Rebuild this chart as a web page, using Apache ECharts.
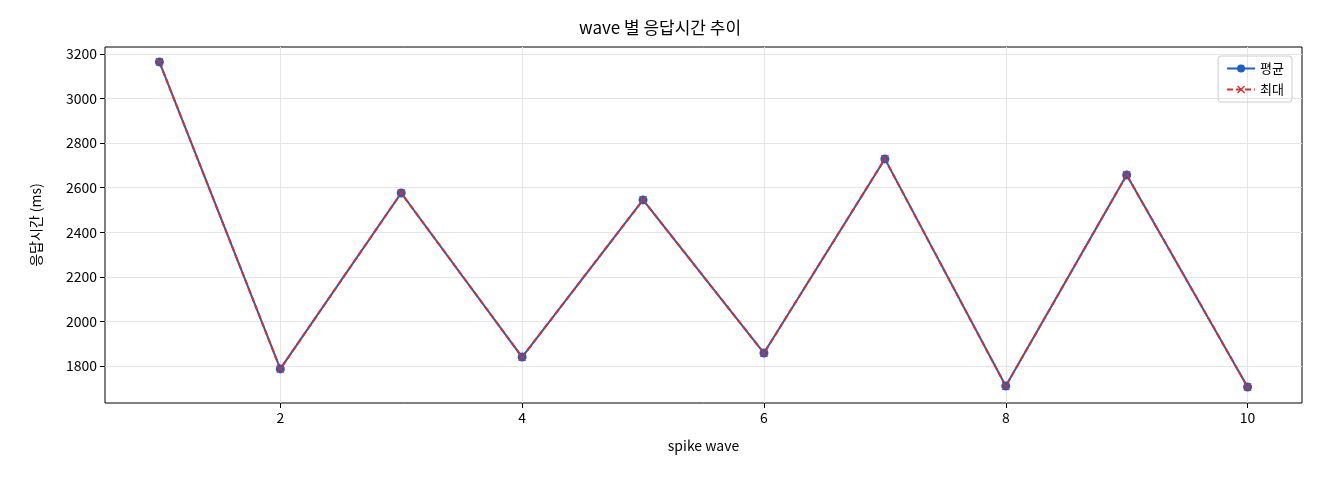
<!DOCTYPE html>
<html><head><meta charset="utf-8">
<script src="https://cdn.jsdelivr.net/npm/echarts@6/dist/echarts.min.js"></script>
<style>html,body{margin:0;padding:0;background:#fff}#c{width:1320px;height:480px}</style>
</head><body><div id="c"></div>
<script>
const waves = [1,2,3,4,5,6,7,8,9,10];
const avgMs = [3164,1787,2576,1840,2545,1858,2729,1710,2657,1706];
const maxMs = [3164,1787,2576,1840,2545,1858,2729,1710,2657,1706];
const xTicks = [2,4,6,8,10];
const yTicks = [1800,2000,2200,2400,2600,2800,3000,3200];
const font = "'Noto Sans CJK KR', 'DejaVu Sans', sans-serif";
const chart = echarts.init(document.getElementById('c'));
chart.setOption({
  animation:false,
  textStyle:{fontFamily:font},
  title:{text:'wave 별 응답시간 추이',left:'center',top:14,textStyle:{fontSize:17,fontWeight:'normal',color:'#000',fontFamily:font}},
  grid:{left:105,right:18,top:47,bottom:77,show:true,borderColor:'#000',borderWidth:1},
  legend:{right:28,top:56,orient:'vertical',borderColor:'#ccc',borderWidth:1,borderRadius:3,padding:[6,8],itemGap:8,itemWidth:28,itemHeight:10,textStyle:{fontSize:13,color:'#000'},data:['평균','최대']},
  xAxis:{type:'value',min:0.55,max:10.45,name:'spike wave',nameLocation:'middle',nameGap:36,nameTextStyle:{fontSize:14,color:'#000'},
    axisLine:{show:false},axisTick:{show:true,customValues:xTicks,lineStyle:{color:'#000'}},
    axisLabel:{customValues:xTicks,fontSize:14,color:'#000',formatter:v=>String(v)},
    splitLine:{show:true,lineStyle:{color:'#e5e5e5'}}},
  yAxis:{type:'value',min:1634,max:3231,name:'응답시간 (ms)',nameLocation:'middle',nameGap:62,nameTextStyle:{fontSize:14,color:'#000'},
    axisLine:{show:false},axisTick:{show:true,customValues:yTicks,lineStyle:{color:'#000'}},
    axisLabel:{customValues:yTicks,fontSize:14,color:'#000',formatter:v=>String(v)},
    splitLine:{show:true,lineStyle:{color:'#e5e5e5'}}},
  series:[
    {name:'평균',type:'line',data:waves.map((w,i)=>[w,avgMs[i]]),symbol:'circle',symbolSize:9,
     lineStyle:{color:'#1f5fbf',width:2},itemStyle:{color:'#1f5fbf'}},
    {name:'최대',type:'line',data:waves.map((w,i)=>[w,maxMs[i]]),
     symbol:'path://M-1,-1.3 L0,-0.3 L1,-1.3 L1.3,-1 L0.3,0 L1.3,1 L1,1.3 L0,0.3 L-1,1.3 L-1.3,1 L-0.3,0 L-1.3,-1 Z',symbolSize:8,
     lineStyle:{color:'#d62f2f',width:2,type:[6,3]},itemStyle:{color:'#d62f2f'}}
  ]
});
</script></body></html>
